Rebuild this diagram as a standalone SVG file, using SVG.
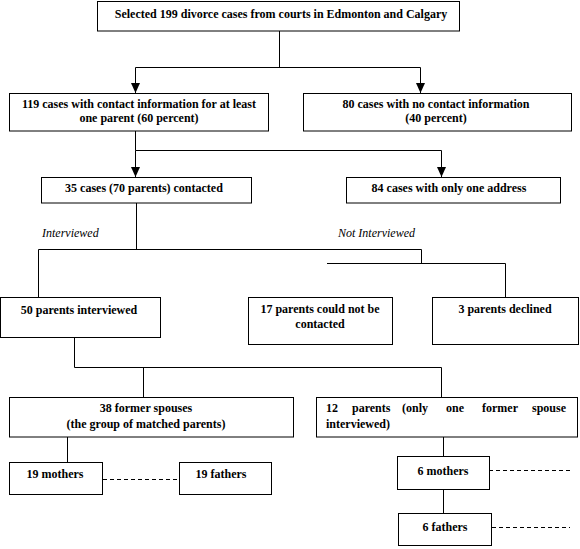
<svg xmlns="http://www.w3.org/2000/svg" width="580" height="549" viewBox="0 0 580 549">
<defs>
<style>
.box{fill:#fff;stroke:#000;stroke-width:1}
.t{font-family:"Liberation Serif","Times New Roman",serif;font-weight:bold;font-size:12px;fill:#000}
.c{text-anchor:middle}
.i{font-family:"Liberation Serif","Times New Roman",serif;font-style:italic;font-size:12px;fill:#000}
.ln{fill:none;stroke:#000;stroke-width:1}
.dash{fill:none;stroke:#000;stroke-width:1;stroke-dasharray:4 3}
</style>
<marker id="ah" markerUnits="userSpaceOnUse" markerWidth="10" markerHeight="9" refX="10" refY="4.5" orient="auto" viewBox="0 0 10 9">
<path d="M0,0 L10,4.5 L0,9 z" fill="#000"/>
</marker>
</defs>
<rect width="580" height="549" fill="#fff"/>
<g id="connectors">
<path class="ln" d="M279.5,31 V67.5 M135.5,67.5 H420.5"/>
<path class="ln" d="M135.5,67.5 V93" marker-end="url(#ah)"/>
<path class="ln" d="M420.5,67.5 V93" marker-end="url(#ah)"/>
<path class="ln" d="M135.5,131 V150.5 H441.5"/>
<path class="ln" d="M135.5,150.5 V177" marker-end="url(#ah)"/>
<path class="ln" d="M441.5,150.5 V177" marker-end="url(#ah)"/>
<path class="ln" d="M136.5,203 V249.5 M38.5,297 V249.5 H421.5 V263.5 M327,263.5 H505.5 V297"/>
<path class="ln" d="M74.5,337 V367.5 H441.5 V397 M143.5,367.5 V397"/>
<path class="ln" d="M67.5,437 V462"/>
<path class="dash" d="M103,479.5 H180"/>
<path class="ln" d="M443.5,437 V456 M443.5,489 V513"/>
<path class="dash" d="M489,470.5 H570"/>
<path class="dash" d="M492,527.5 H570"/>
</g>
<g id="n-selected">
<rect class="box" x="97.5" y="1.5" width="362" height="29.5"/>
<text class="t c" x="281" y="18">Selected 199 divorce cases from courts in Edmonton and  Calgary</text>
</g>
<g id="n-119">
<rect class="box" x="9.5" y="93.5" width="259" height="37.5"/>
<text class="t c" x="139" y="108">119 cases with contact information for at least</text>
<text class="t c" x="139" y="122">one parent (60 percent)</text>
</g>
<g id="n-80">
<rect class="box" x="303.5" y="93.5" width="268" height="37.5"/>
<text class="t c" x="436" y="108">80 cases with no contact information</text>
<text class="t c" x="436" y="122">(40 percent)</text>
</g>
<g id="n-35">
<rect class="box" x="41.5" y="177.5" width="210" height="25.5"/>
<text class="t c" x="144" y="192">35 cases (70 parents) contacted</text>
</g>
<g id="n-84">
<rect class="box" x="346.5" y="177.5" width="214" height="25.5"/>
<text class="t c" x="449" y="192">84 cases with only one address</text>
</g>
<g id="l-int">
<text class="i" x="42" y="237">Interviewed</text>
</g>
<g id="l-notint">
<text class="i" x="338" y="237">Not Interviewed</text>
</g>
<g id="n-50">
<rect class="box" x="0.5" y="297.5" width="160" height="40"/>
<text class="t c" x="79" y="314">50 parents interviewed</text>
</g>
<g id="n-17">
<rect class="box" x="248.5" y="297.5" width="144" height="47"/>
<text class="t c" x="320" y="313">17 parents could not be</text>
<text class="t c" x="320" y="328">contacted</text>
</g>
<g id="n-3">
<rect class="box" x="432.5" y="297.5" width="146" height="47"/>
<text class="t c" x="505" y="313">3 parents declined</text>
</g>
<g id="n-38">
<rect class="box" x="9.5" y="397.5" width="284" height="39.5"/>
<text class="t c" x="146" y="412">38 former spouses</text>
<text class="t c" x="146" y="428">(the group of matched parents)</text>
</g>
<g id="n-12">
<rect class="box" x="316.5" y="397.5" width="261" height="39.5"/>
<text class="t" x="326" y="412">12</text>
<text class="t" x="352" y="412">parents</text>
<text class="t" x="402" y="412">(only</text>
<text class="t" x="446" y="412">one</text>
<text class="t" x="482" y="412">former</text>
<text class="t" x="532" y="412">spouse</text>
<text class="t" x="326" y="428">interviewed)</text>
</g>
<g id="n-19m">
<rect class="box" x="9.5" y="462.5" width="93" height="32"/>
<text class="t c" x="55" y="478">19 mothers</text>
</g>
<g id="n-19f">
<rect class="box" x="179.5" y="462.5" width="92" height="32"/>
<text class="t c" x="221" y="478">19 fathers</text>
</g>
<g id="n-6m">
<rect class="box" x="397.5" y="456.5" width="92" height="33"/>
<text class="t c" x="443" y="475">6 mothers</text>
</g>
<g id="n-6f">
<rect class="box" x="398.5" y="513.5" width="93" height="32"/>
<text class="t c" x="445" y="531">6 fathers</text>
</g>
</svg>
